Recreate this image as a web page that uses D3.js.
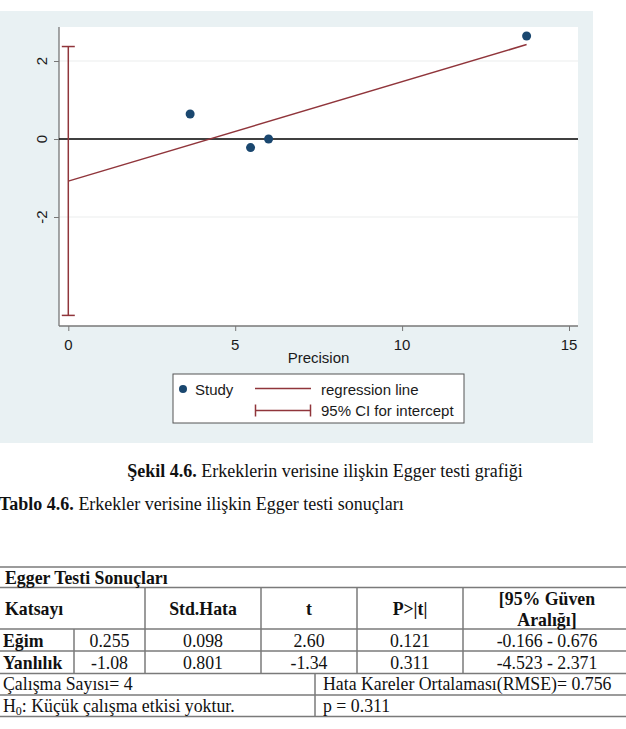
<!DOCTYPE html>
<html lang="tr">
<head>
<meta charset="UTF-8">
<title>Egger testi grafiği</title>
<script src="https://d3js.org/d3.v7.min.js"></script>
<style>
  body { margin: 0; background: #fff; }
  svg { display: block; }
  .sans { font-family: "Liberation Sans", Arial, sans-serif; fill: #1a1a1a; }
  .serif { font-family: "Liberation Serif", "Times New Roman", serif; fill: #111; }
</style>
</head>
<body>
<svg width="626" height="729"></svg>
<script>
// study points: precision (1/se) vs standardised effect
const precision = [3.65, 5.46, 6.0, 13.73];
const stdEffect = [0.64, -0.22, 0.0, 2.64];
// Egger regression
const slope = 0.255, intercept = -1.08;
const ciIntercept = [-4.523, 2.371];
const xTicks = [0, 5, 10, 15];
const yTicks = [-2, 0, 2];

// table content
const tableHead = ["Katsayı", "Std.Hata", "t", "P>|t|", ["[95% Güven", "Aralığı]"]];
const tableRows = [
  ["Eğim", "0.255", "0.098", "2.60", "0.121", "-0.166 - 0.676"],
  ["Yanlılık", "-1.08", "0.801", "-1.34", "0.311", "-4.523 - 2.371"]
];
const footLeft = ["Çalışma Sayısı= 4", "H0: Küçük çalışma etkisi yoktur."];
const footRight = ["Hata Kareler Ortalaması(RMSE)= 0.756", "p = 0.311"];

const svg = d3.select("svg");
const navy = "#1a476f", red = "#90353b";

// ---- chart ----
svg.append("rect").attr("x", 0).attr("y", 11).attr("width", 593).attr("height", 432).attr("fill", "#e9f1f3");
const plot = {left: 59, right: 578, top: 27, bottom: 326};
svg.append("rect").attr("x", plot.left).attr("y", plot.top)
  .attr("width", plot.right - plot.left).attr("height", plot.bottom - plot.top).attr("fill", "#fff");

const x = d3.scaleLinear().domain([0, 15]).range([68.3, 569]);
const y = d3.scaleLinear().domain([-2, 2]).range([217, 61]);

// grid
svg.selectAll(".grid").data(yTicks.filter(d => d !== 0)).enter().append("line")
  .attr("x1", plot.left).attr("x2", plot.right)
  .attr("y1", d => y(d)).attr("y2", d => y(d))
  .attr("stroke", "#eceeee").attr("stroke-width", 1.2);

// axes
const yAxis = svg.append("g").attr("transform", `translate(${plot.left},0)`)
  .call(d3.axisLeft(y).tickValues(yTicks).tickSize(5).tickFormat(d3.format("d")));
yAxis.select(".domain").attr("d", `M0,${plot.top}V${plot.bottom}`);
yAxis.selectAll("text").remove();
yAxis.selectAll("line").attr("stroke", "#777");
yAxis.select(".domain").attr("stroke", "#777").attr("stroke-width", 1.3);

svg.selectAll(".ylab").data(yTicks).enter().append("text")
  .attr("class", "sans")
  .attr("transform", d => `translate(46.5,${y(d)}) rotate(-90)`)
  .attr("text-anchor", "middle").attr("font-size", 15)
  .text(d => d);

const xAxis = svg.append("g").attr("transform", `translate(0,${plot.bottom})`)
  .call(d3.axisBottom(x).tickValues(xTicks).tickSize(5).tickFormat(d3.format("d")));
xAxis.select(".domain").attr("d", `M${plot.left},0H${plot.right}`).attr("stroke", "#777").attr("stroke-width", 1.3);
xAxis.selectAll("line").attr("stroke", "#777");
xAxis.selectAll("text").remove();
svg.selectAll(".xlab").data(xTicks).enter().append("text")
  .attr("class", "sans").attr("x", d => x(d)).attr("y", 350)
  .attr("text-anchor", "middle").attr("font-size", 15).text(d => d);

svg.append("text").attr("class", "sans").attr("x", 318.5).attr("y", 363)
  .attr("text-anchor", "middle").attr("font-size", 15).text("Precision");

// zero line
svg.append("line").attr("x1", plot.left).attr("x2", plot.right)
  .attr("y1", y(0)).attr("y2", y(0)).attr("stroke", "#000").attr("stroke-width", 1.5);

// CI for intercept
const capW = 6.5;
svg.append("line").attr("x1", x(0)).attr("x2", x(0))
  .attr("y1", y(ciIntercept[0])).attr("y2", y(ciIntercept[1])).attr("stroke", red).attr("stroke-width", 1.5);
svg.selectAll(".cap").data(ciIntercept).enter().append("line")
  .attr("x1", x(0) - capW).attr("x2", x(0) + capW)
  .attr("y1", d => y(d)).attr("y2", d => y(d)).attr("stroke", red).attr("stroke-width", 1.5);

// regression line
const xMax = d3.max(precision);
svg.append("line")
  .attr("x1", x(0)).attr("y1", y(intercept))
  .attr("x2", x(xMax)).attr("y2", y(intercept + slope * xMax))
  .attr("stroke", red).attr("stroke-width", 1.5);

// points
svg.selectAll(".pt").data(precision).enter().append("circle")
  .attr("cx", d => x(d)).attr("cy", (d, i) => y(stdEffect[i]))
  .attr("r", 4.5).attr("fill", navy);

// legend
const lg = svg.append("g");
lg.append("rect").attr("x", 173).attr("y", 374).attr("width", 291).attr("height", 49)
  .attr("fill", "#fff").attr("stroke", "#555").attr("stroke-width", 1);
lg.append("circle").attr("cx", 183).attr("cy", 389).attr("r", 4).attr("fill", navy);
lg.append("text").attr("class", "sans").attr("x", 195).attr("y", 394.5).attr("font-size", 15).text("Study");
lg.append("line").attr("x1", 255).attr("x2", 311).attr("y1", 388.5).attr("y2", 388.5).attr("stroke", red).attr("stroke-width", 1.5);
lg.append("text").attr("class", "sans").attr("x", 321).attr("y", 394.5).attr("font-size", 15).text("regression line");
lg.append("line").attr("x1", 255.5).attr("x2", 310.5).attr("y1", 410.5).attr("y2", 410.5).attr("stroke", red).attr("stroke-width", 1.5);
[255.5, 310.5].forEach(cx => lg.append("line").attr("x1", cx).attr("x2", cx)
  .attr("y1", 404.5).attr("y2", 416.5).attr("stroke", red).attr("stroke-width", 1.5));
lg.append("text").attr("class", "sans").attr("x", 321).attr("y", 415.5).attr("font-size", 15).text("95% CI for intercept");

// ---- caption ----
const cap = svg.append("text").attr("class", "serif").attr("x", 325).attr("y", 477)
  .attr("text-anchor", "middle").attr("font-size", 18);
cap.append("tspan").attr("font-weight", "bold").text("Şekil 4.6.");
cap.append("tspan").text(" Erkeklerin verisine ilişkin Egger testi grafiği");

const ttl = svg.append("text").attr("class", "serif").attr("x", -1).attr("y", 510).attr("font-size", 18);
ttl.append("tspan").attr("font-weight", "bold").text("Tablo 4.6.");
ttl.append("tspan").text(" Erkekler verisine ilişkin Egger testi sonuçları");

// ---- table ----
const hLines = [567, 587.5, 629, 651, 673.5, 695, 716.5];
const line = (x1, y1, x2, y2) => svg.append("line").attr("x1", x1).attr("y1", y1).attr("x2", x2).attr("y2", y2)
  .attr("stroke", "#7a7a7a").attr("stroke-width", 1.5);
hLines.forEach(v => line(0, v, 626, v));
[145, 261, 357, 463].forEach(v => line(v, hLines[1], v, hLines[4]));
line(74, hLines[2], 74, hLines[4]);
line(315, hLines[4], 315, hLines[6]);

const colCenter = [null, 109.5, 203, 309, 410, 547];
const fs = 17.8;
svg.append("text").attr("class", "serif").attr("x", 5).attr("y", 583.5).attr("font-size", fs)
  .attr("font-weight", "bold").text("Egger Testi Sonuçları");

svg.append("text").attr("class", "serif").attr("x", 5).attr("y", 615).attr("font-size", fs)
  .attr("font-weight", "bold").text(tableHead[0]);
tableHead.slice(1).forEach((h, i) => {
  const t = svg.append("text").attr("class", "serif").attr("x", colCenter[i + 2])
    .attr("text-anchor", "middle").attr("font-size", fs).attr("font-weight", "bold");
  if (Array.isArray(h)) {
    t.attr("y", 604.5);
    h.forEach((s, k) => t.append("tspan").attr("x", colCenter[i + 2]).attr("dy", k ? 21 : 0).text(s));
  } else t.attr("y", 615).text(h);
});

tableRows.forEach((r, ri) => {
  const by = [646.5, 668.5][ri];
  svg.append("text").attr("class", "serif").attr("x", 3).attr("y", by).attr("font-size", fs)
    .attr("font-weight", "bold").text(r[0]);
  r.slice(1).forEach((v, ci) => svg.append("text").attr("class", "serif")
    .attr("x", colCenter[ci + 1]).attr("y", by).attr("text-anchor", "middle").attr("font-size", fs).text(v));
});

[690, 711.5].forEach((by, i) => {
  const t = svg.append("text").attr("class", "serif").attr("x", 3).attr("y", by).attr("font-size", fs);
  if (i === 1) {
    t.append("tspan").text("H");
    t.append("tspan").attr("font-size", 12).attr("dy", 3).text("0");
    t.append("tspan").attr("dy", -3).text(footLeft[1].slice(2));
  } else t.text(footLeft[0]);
  svg.append("text").attr("class", "serif").attr("x", 323).attr("y", by).attr("font-size", fs).text(footRight[i]);
});
</script>
</body>
</html>
